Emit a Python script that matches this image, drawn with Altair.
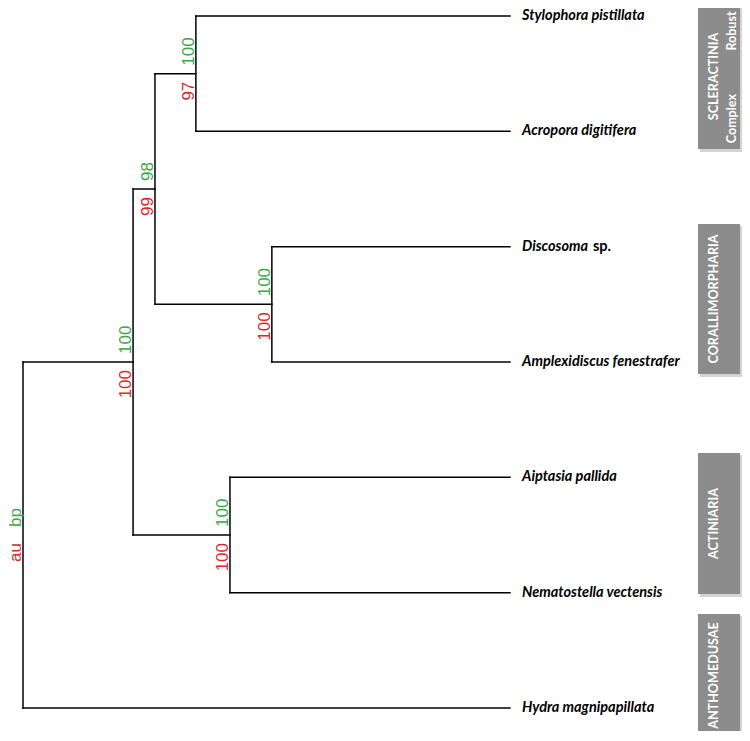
import altair as alt
import pandas as pd

# ---- data -------------------------------------------------------------
leaf_names = ["Stylophora pistillata", "Acropora digitifera", "Discosoma",
              "Amplexidiscus fenestrafer", "Aiptasia pallida",
              "Nematostella vectensis", "Hydra magnipapillata"]
leaf_suffix = ["", "", "sp.", "", "", "", ""]
leaf_ids = ["L0", "L1", "L2", "L3", "L4", "L5", "L6"]

node_ids = ["C", "D", "E", "B", "A", "root"]
node_children = [["L0", "L1"], ["L2", "L3"], ["L4", "L5"],
                 ["C", "D"], ["B", "E"], ["A", "L6"]]
node_depth = [0.355, 0.511, 0.425, 0.271, 0.226, 0.0]
bp_values = ["100", "100", "100", "98", "100", "bp"]
au_values = ["97", "100", "100", "99", "100", "au"]

group_names = ["SCLERACTINIA", "CORALLIMORPHARIA", "ACTINIARIA", "ANTHOMEDUSAE"]
group_start = [-0.104, 1.803, 3.789, 5.185]
group_end = [1.153, 3.104, 5.012, 6.252]
sub_names = ["Robust", "Complex"]
sub_pos = [0.13, 0.89]

# ---- tree layout ------------------------------------------------------
pos = {}
for i, lid in enumerate(leaf_ids):
    pos[lid] = (1.0, float(i))
for nid, ch, d in zip(node_ids, node_children, node_depth):
    ys_ = [pos[c][1] for c in ch]
    pos[nid] = (d, sum(ys_) / len(ys_))

seg_rows = []
for nid, ch in zip(node_ids, node_children):
    x0, _ = pos[nid]
    ys_ = [pos[c][1] for c in ch]
    seg_rows.append({"x": x0, "x2": x0, "y": min(ys_), "y2": max(ys_)})
    for c in ch:
        cx, cy = pos[c]
        seg_rows.append({"x": x0, "x2": cx, "y": cy, "y2": cy})
segs = pd.DataFrame(seg_rows)

leaves = pd.DataFrame({"name": leaf_names, "suffix": leaf_suffix,
                       "x": [pos[l][0] for l in leaf_ids],
                       "y": [pos[l][1] for l in leaf_ids]})
nodes = pd.DataFrame({"bp": bp_values, "au": au_values,
                      "x": [pos[n][0] for n in node_ids],
                      "y": [pos[n][1] for n in node_ids]})
groups = pd.DataFrame({"name": group_names, "y": group_start, "y2": group_end,
                       "mid": [(a + b) / 2 for a, b in zip(group_start, group_end)]})
subs = pd.DataFrame({"name": sub_names, "y": sub_pos})

W, H = 734, 723
xs = alt.Scale(domain=[-15 / 487, (W - 15) / 487])
ys = alt.Scale(domain=[-8 / 115.33, (H - 8) / 115.33], reverse=True)
X = alt.X("x:Q", scale=xs, axis=None)
Y = alt.Y("y:Q", scale=ys, axis=None)

rules = alt.Chart(segs).mark_rule(color="black", strokeWidth=1.5, strokeCap="square").encode(
    x=X, x2="x2:Q", y=Y, y2="y2:Q")

tips = alt.Chart(leaves).mark_text(
    align="left", baseline="middle", dx=12, font="Lato", fontSize=14.5,
    fontWeight="bold", fontStyle="italic", color="black").encode(x=X, y=Y, text="name:N")

suffix = alt.Chart(leaves).mark_text(
    align="left", baseline="middle", dx=83, font="Lato", fontSize=14.5,
    fontWeight="bold", color="black").encode(x=X, y=Y, text="suffix:N")

bp_txt = alt.Chart(nodes).mark_text(
    align="left", baseline="alphabetic", angle=270, dx=8, dy=-2,
    font="Liberation Sans", fontSize=17, color="#3aa845").encode(x=X, y=Y, text="bp:N")

au_txt = alt.Chart(nodes).mark_text(
    align="right", baseline="alphabetic", angle=270, dx=-8, dy=-2,
    font="Liberation Sans", fontSize=17, color="#e0262b").encode(x=X, y=Y, text="au:N")

shadow = alt.Chart(groups).mark_rect(color="#d4d4d4", yOffset=2, y2Offset=3).encode(
    x=alt.value(692), x2=alt.value(735), y=alt.Y("y:Q", scale=ys, axis=None), y2="y2:Q")

boxes = alt.Chart(groups).mark_rect(color="#8c8c8c").encode(
    x=alt.value(690), x2=alt.value(732), y=alt.Y("y:Q", scale=ys, axis=None), y2="y2:Q")

box_txt = alt.Chart(groups).mark_text(
    angle=270, align="center", baseline="middle", font="Lato", fontSize=12.6,
    fontWeight="bold", color="white").encode(
    x=alt.value(706), y=alt.Y("mid:Q", scale=ys, axis=None), text="name:N")

sub_txt = alt.Chart(subs).mark_text(
    angle=270, align="center", baseline="middle", font="Lato", fontSize=12.5,
    fontWeight="bold", color="white").encode(
    x=alt.value(724), y=alt.Y("y:Q", scale=ys, axis=None), text="name:N")

chart = alt.layer(rules, tips, suffix, bp_txt, au_txt, shadow, boxes, box_txt, sub_txt).properties(
    width=W, height=H, autosize=alt.AutoSizeParams(type="none"), padding=0
).configure_view(stroke=None)

chart.save("out.html", embed_options={"renderer": "svg", "actions": False})
